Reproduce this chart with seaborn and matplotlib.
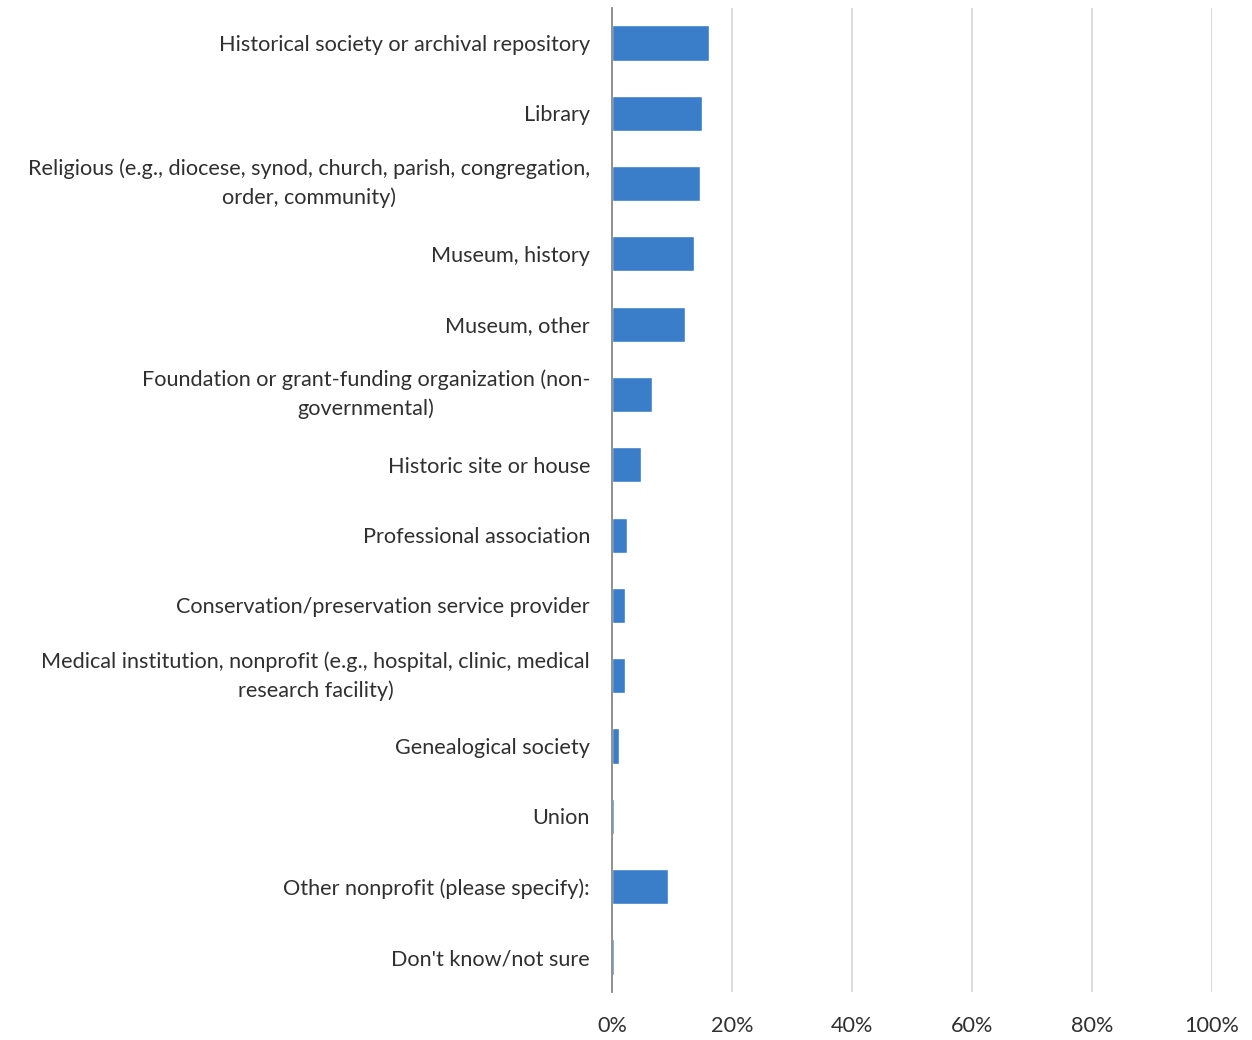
import matplotlib
matplotlib.use("Agg")
import matplotlib.pyplot as plt
import seaborn as sns
import pandas as pd
from matplotlib.ticker import PercentFormatter

categories = [
    "Historical society or archival repository",
    "Library",
    "Religious (e.g., diocese, synod, church, parish, congregation,\norder, community)",
    "Museum, history",
    "Museum, other",
    "Foundation or grant-funding organization (non-\ngovernmental)",
    "Historic site or house",
    "Professional association",
    "Conservation/preservation service provider",
    "Medical institution, nonprofit (e.g., hospital, clinic, medical\nresearch facility)",
    "Genealogical society",
    "Union",
    "Other nonprofit (please specify):",
    "Don't know/not sure",
]
values = [16.1, 14.9, 14.6, 13.6, 12.2, 6.6, 4.8, 2.5, 2.2, 2.05, 1.2, 0.3, 9.3, 0.3]
xticks = [0, 20, 40, 60, 80, 100]

df = pd.DataFrame({"category": categories, "value": values})

sns.set_theme(style="white")
plt.rcParams["font.family"] = ["Lato", "DejaVu Sans"]

fig = plt.figure(figsize=(12.52, 10.4), dpi=100)
ax = fig.add_axes([0.489, 0.046, 0.479, 0.9465])

sns.barplot(data=df, x="value", y="category", orient="h", color="#3a7dc9",
            saturation=1, width=0.5, ax=ax)

ax.set_xlim(0, 100)
ax.set_xticks(xticks)
ax.xaxis.set_major_formatter(PercentFormatter(decimals=0))
ax.grid(axis="x", color="#d4d4d4", linewidth=1.2)
ax.set_axisbelow(True)
for s in ["top", "right", "bottom"]:
    ax.spines[s].set_visible(False)
ax.spines["left"].set_color("#888888")
ax.spines["left"].set_linewidth(1.3)
ax.set_xlabel("")
ax.set_ylabel("")
ax.tick_params(axis="y", length=0, pad=16, labelsize=15.6, labelcolor="#303030")
ax.tick_params(axis="x", length=0, pad=17, labelsize=15.6, labelcolor="#303030")
for lbl in ax.get_yticklabels():
    lbl.set_multialignment("center")
    lbl.set_linespacing(1.5)
    if "\n" in lbl.get_text():
        lbl.set_verticalalignment("center")

fig.savefig("out.png", dpi=100)
